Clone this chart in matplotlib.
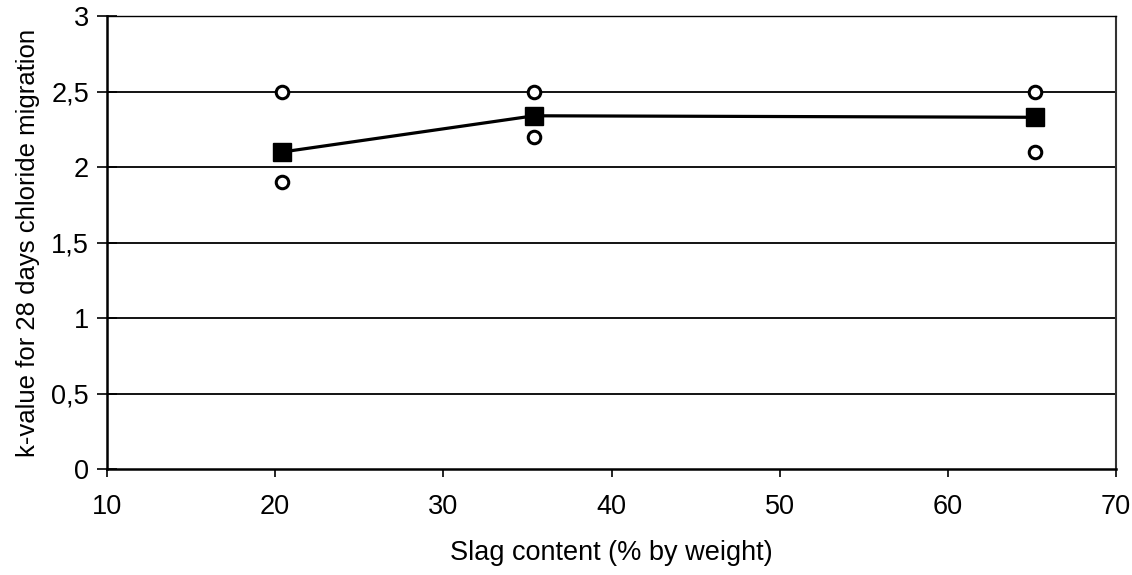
import matplotlib.pyplot as plt
from matplotlib.ticker import FuncFormatter

slag = [20.4, 35.4, 65.2]
k_mean = [2.10, 2.34, 2.33]
k_high = [2.50, 2.50, 2.50]
k_low = [1.90, 2.20, 2.10]

plt.rcParams['font.family'] = ['Liberation Sans', 'DejaVu Sans']

fig = plt.figure(figsize=(11.32, 5.75), dpi=100)
ax = fig.add_axes([0.0945, 0.184, 0.8915, 0.788])

ax.set_xlim(10, 70)
ax.set_ylim(0, 3)
ax.set_yticks([0, 0.5, 1, 1.5, 2, 2.5, 3])
ax.set_xticks(range(10, 71, 10))
ax.yaxis.set_major_formatter(FuncFormatter(lambda v, p: f'{v:g}'.replace('.', ',')))

for y in [0.5, 1, 1.5, 2, 2.5]:
    ax.axhline(y, color='black', lw=1.3, zorder=1)

ax.plot(slag, k_mean, color='black', lw=2.3, marker='s', ms=13, mfc='black', mec='black', zorder=3)
ax.plot(slag, k_high, ls='none', marker='o', ms=9, mfc='white', mec='black', mew=2.2, zorder=4)
ax.plot(slag, k_low, ls='none', marker='o', ms=9, mfc='white', mec='black', mew=2.2, zorder=4)

ax.spines['left'].set_linewidth(1.8)
ax.spines['bottom'].set_linewidth(1.8)
ax.spines['top'].set_linestyle((0, (4, 1)))
ax.spines['top'].set_linewidth(1)
ax.spines['right'].set_linestyle((0, (1, 1)))
ax.spines['right'].set_linewidth(1.5)
ax.spines['right'].set_color('#333333')

ax.tick_params(axis='y', direction='inout', length=14, width=1.2, labelsize=19.5, pad=6)
ax.tick_params(axis='x', direction='out', length=6, width=1.2, labelsize=19.5, pad=12)

ax.set_xlabel('Slag content (% by weight)', fontsize=19.5, labelpad=14)
ax.set_ylabel('k-value for 28 days chloride migration', fontsize=18.5, labelpad=8)

fig.savefig('out.png', dpi=100)
